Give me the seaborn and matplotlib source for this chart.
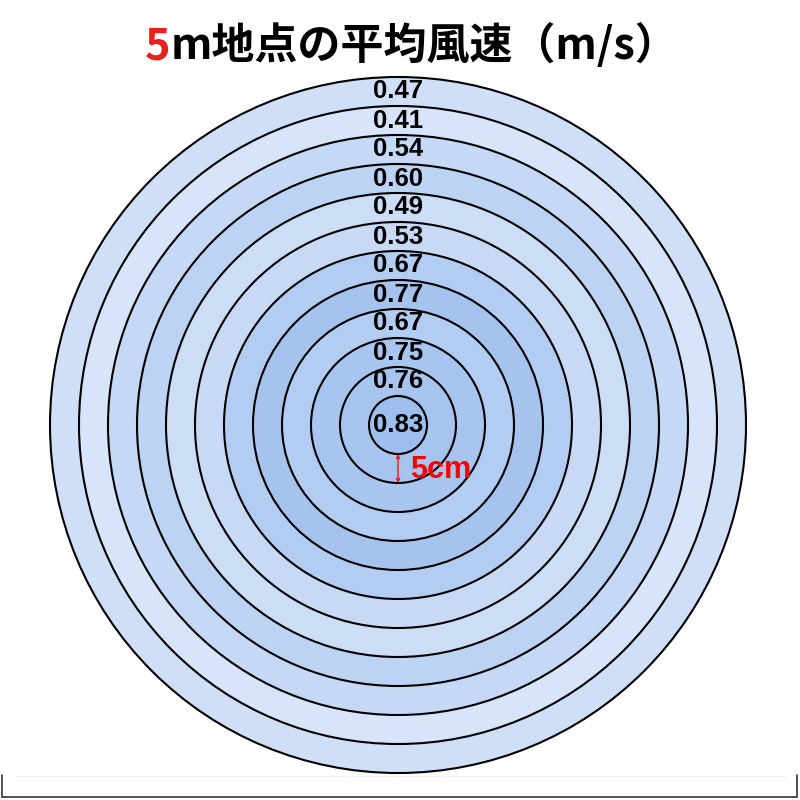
import matplotlib
matplotlib.use('Agg')
import matplotlib.pyplot as plt
from matplotlib.patches import Circle
import seaborn as sns

# Average wind speed (m/s), from centre ring outward, 5 cm per ring
speeds = [0.83, 0.76, 0.75, 0.67, 0.77, 0.67, 0.53, 0.49, 0.60, 0.54, 0.41, 0.47]
labels = [f'{v:.2f}' for v in speeds]
ring_cm = 5
title_red = '5'
title_rest = 'm地点の平均風速（m/s）'

sns.set_theme(style='white')
plt.rcParams['font.family'] = ['Noto Sans CJK JP', 'DejaVu Sans']

cmap = sns.blend_palette(['#d8e5f9', '#9bbcec'], as_cmap=True)
vmin, vmax = 0.40, 0.85

fig = plt.figure(figsize=(8, 8), dpi=100)
ax = fig.add_axes([0, 0, 1, 1])
ax.set_xlim(0, 800)
ax.set_ylim(800, 0)
ax.set_aspect('equal')
ax.axis('off')

cx, cy = 398, 425
px_per_cm = 29.0 / ring_cm

# draw from the outer ring inward so inner discs sit on top
for i in range(len(speeds) - 1, -1, -1):
    r = (i + 1) * ring_cm * px_per_cm
    col = cmap((speeds[i] - vmin) / (vmax - vmin))
    ax.add_patch(Circle((cx, cy), r, facecolor=col, edgecolor='black', lw=1.5))

for i, lab in enumerate(labels):
    if i == 0:
        ty = cy
    else:
        ty = cy - (i + 0.5) * ring_cm * px_per_cm
    ax.text(cx, ty, lab, ha='center', va='center', fontsize=18.5,
            fontweight='bold', family='Liberation Sans', color='black')

# 5cm scale marker
r1 = ring_cm * px_per_cm
ax.annotate('', xy=(cx, cy + r1), xytext=(cx, cy + 2 * r1),
            arrowprops=dict(arrowstyle='<->', color='red', lw=0.9,
                            mutation_scale=6, shrinkA=0, shrinkB=0))
ax.text(cx + 12, cy + 1.55 * r1, f'{ring_cm}cm', ha='left', va='center',
        fontsize=22, fontweight='bold', family='Liberation Sans', color='red')

# title with red leading digit
t1 = ax.text(145, 59, title_red, ha='left', va='baseline', fontsize=31,
             fontweight='bold', color='#e8211c')
ax.annotate(title_rest, xy=(1, 0), xycoords=t1, ha='left', va='bottom',
            fontsize=31, fontweight='bold', color='black')

# bottom frame
ax.plot([2, 2, 797, 797], [775, 797, 797, 775], color='#333333', lw=1.2,
        solid_joinstyle='miter')
ax.plot([15, 785], [776, 776], color='#eef2f8', lw=1)

fig.savefig('out.png', dpi=100)
